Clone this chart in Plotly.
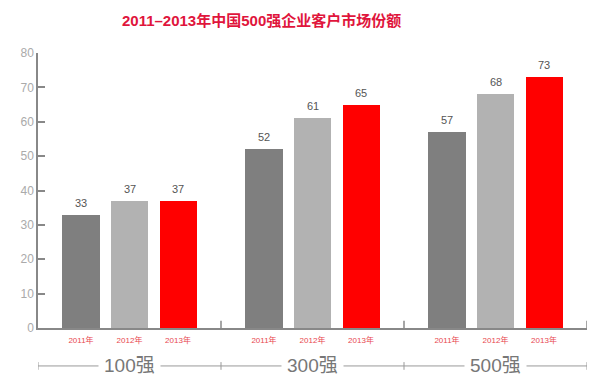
import plotly.graph_objects as go

groups = ["100强", "300强", "500强"]
years = ["2011年", "2012年", "2013年"]
values_2011 = [33, 52, 57]
values_2012 = [37, 61, 68]
values_2013 = [37, 65, 73]
colors = ["#7f7f7f", "#b2b2b2", "#ff0000"]
y_ticks = [0, 10, 20, 30, 40, 50, 60, 70, 80]

series = [values_2011, values_2012, values_2013]

GW = 3.773          # group width in bar-spacing units
OFF = (GW - 2) / 2  # offset of first bar centre within a group
BW = 0.763

def pos(g, j):
    return g * GW + OFF + j

fig = go.Figure()
annotations = []
for j, (yr, vals, col) in enumerate(zip(years, series, colors)):
    xs = [pos(g, j) for g in range(len(groups))]
    fig.add_trace(go.Bar(
        x=xs,
        y=vals,
        width=BW,
        marker=dict(color=col, line=dict(width=0)),
        name=yr,
        showlegend=False,
    ))
    for x, v in zip(xs, vals):
        annotations.append(dict(x=x, y=v, xref="x", yref="y", text=str(v),
                                showarrow=False, xanchor="center", yanchor="middle",
                                yshift=12, font=dict(size=11, color="#555555")))

tickvals = [pos(g, j) for g in range(len(groups)) for j in range(len(years))]
ticktext = [years[j] for g in range(len(groups)) for j in range(len(years))]

shapes = []
line_col = "#999999"
# group divider ticks on the x axis
for g in range(1, len(groups) + 1):
    shapes.append(dict(type="line", xref="x", yref="paper", x0=g * GW, x1=g * GW,
                       y0=0, y1=0.026, line=dict(color="#888888", width=1.5)))
# bottom bracket row
yb = -0.138
px_per_unit = 549 / (3 * GW)
gap = 31 / px_per_unit
for g in range(len(groups)):
    x0 = g * GW
    x1 = (g + 1) * GW
    c = (x0 + x1) / 2
    shapes.append(dict(type="line", xref="x", yref="paper", x0=x0, x1=c - gap,
                       y0=yb, y1=yb, line=dict(color=line_col, width=1)))
    shapes.append(dict(type="line", xref="x", yref="paper", x0=c + gap, x1=x1,
                       y0=yb, y1=yb, line=dict(color=line_col, width=1)))
for g in range(len(groups) + 1):
    shapes.append(dict(type="line", xref="x", yref="paper", x0=g * GW, x1=g * GW,
                       y0=yb - 0.014, y1=yb + 0.014, line=dict(color=line_col, width=1)))

for g, name in enumerate(groups):
    annotations.append(dict(x=(g + 0.5) * GW, y=yb, xref="x", yref="paper",
                            text=name, showarrow=False, xanchor="center", yanchor="middle",
                            font=dict(size=19, color="#777777")))

fig.update_layout(
    width=600, height=375,
    margin=dict(l=38, r=13, t=53, b=47, autoexpand=False),
    paper_bgcolor="white", plot_bgcolor="white",
    font=dict(family="Liberation Sans, Noto Sans CJK SC, sans-serif"),
    title=dict(text="<b>2011–2013年中国500强企业客户市场份额</b>",
               x=0.436, xanchor="center", y=1 - 21 / 375, yanchor="middle",
               automargin=False,
               font=dict(size=15, color="#e0153c",
                         family="Liberation Sans, Noto Sans CJK SC, sans-serif")),
    bargap=0,
    shapes=shapes,
    annotations=annotations,
)
fig.update_xaxes(range=[0, 3 * GW], tickvals=tickvals, ticktext=ticktext,
                 tickfont=dict(size=8, color="#e8474f"), ticks="",
                 ticklabelstandoff=4,
                 showline=True, linecolor="#888888", linewidth=1.5,
                 showgrid=False, zeroline=False, fixedrange=True, automargin=False)
fig.update_yaxes(range=[0, 80], tickvals=y_ticks, ticks="inside", ticklen=7,
                 tickcolor="#888888", tickwidth=1.5,
                 tickfont=dict(size=12, color="#aaaaaa"),
                 showline=True, linecolor="#888888", linewidth=1.5,
                 showgrid=False, zeroline=False, fixedrange=True, automargin=False)

fig.write_html("out.html", config={"displayModeBar": False},
               post_script="document.body.style.margin='0';document.body.style.overflow='hidden';")
